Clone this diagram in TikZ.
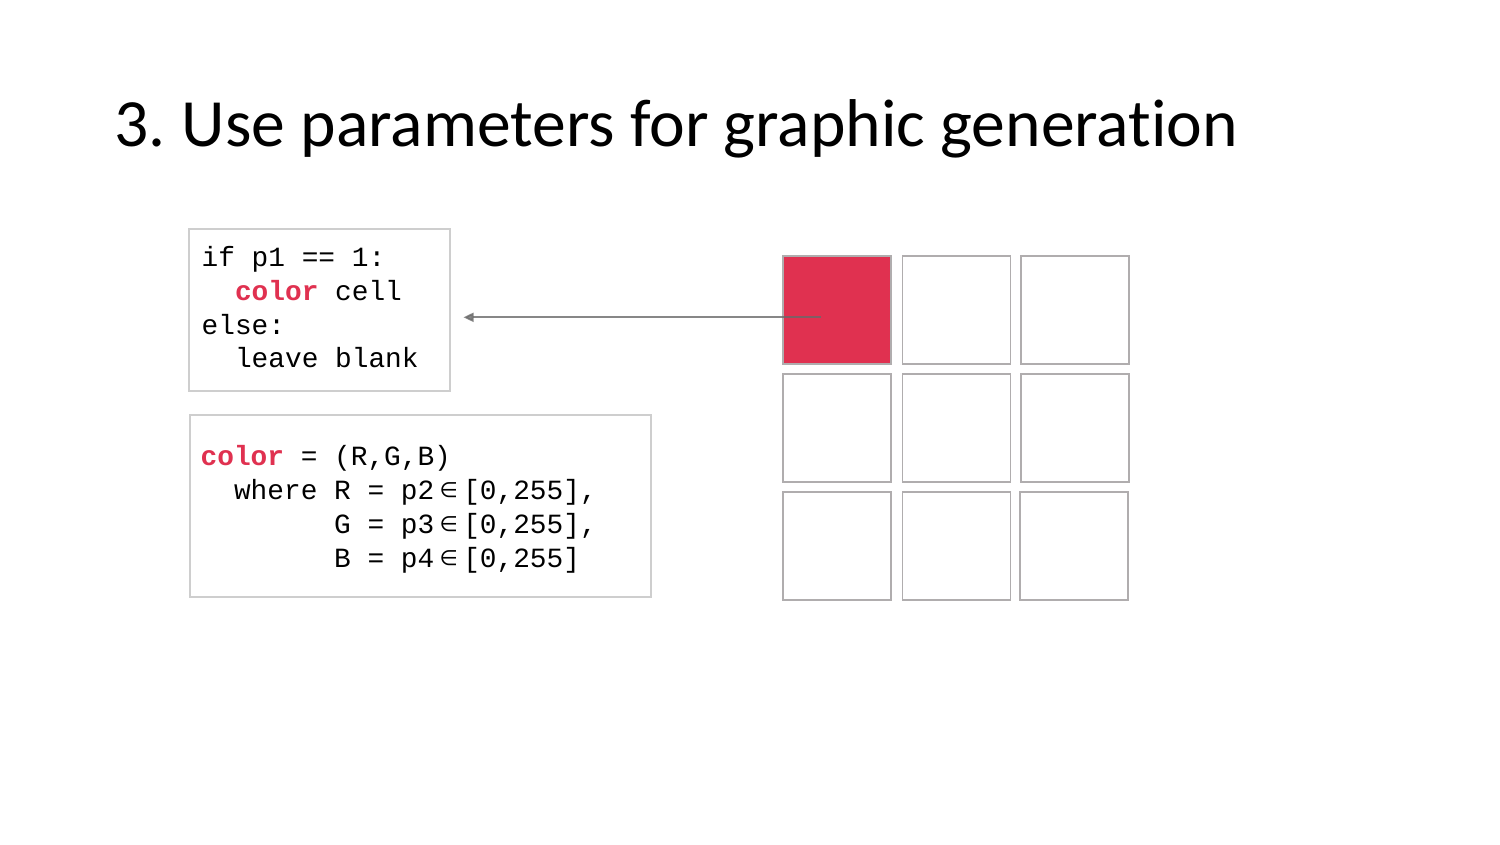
\documentclass[tikz,border=0pt]{standalone}
\usepackage{fontspec}
\setmainfont{Carlito}[Ligatures={NoCommon}]
\newfontfamily\codefont{Liberation Mono}
\newfontfamily\symfont{DejaVu Sans}
\usetikzlibrary{arrows.meta}

\definecolor{accent}{RGB}{224,49,80}
\definecolor{cellgray}{RGB}{176,173,174}
\definecolor{boxgray}{RGB}{206,206,206}
\definecolor{linkgray}{RGB}{105,105,105}

% keyword highlighting and the set-membership sign
\newcommand{\kw}[1]{\textcolor{accent}{\bfseries #1}}
\newcommand{\elem}{\makebox[29pt][c]{\raisebox{1.5pt}{\fontsize{21}{21}\symfont ∈}}}

\begin{document}
\begin{tikzpicture}[x=1pt,y=-1pt,
  codeline/.style={anchor=base west, inner sep=0pt,
    font=\codefont\fontsize{27.8}{33.7}\selectfont},
  codebox/.style={draw=boxgray, line width=1.5pt, anchor=north west,
    inner sep=0pt},
  cell/.style={draw=cellgray, line width=1.6pt, anchor=north west,
    minimum width=108pt, minimum height=108pt, inner sep=0pt},
  link/.style={draw=linkgray, line width=1.8pt, opacity=0.8,
    -{Triangle[length=10pt,width=9pt]}}]

\fill[white] (0,0) rectangle (1500,844);
\useasboundingbox (0,0) rectangle (1500,844);

% heading
\node[anchor=base west, inner sep=0pt, font=\fontsize{67.6}{80}\selectfont]
  (title) at (114,146) {3.\hspace{-4pt} Use parameters for graphic generation};

% code panels
\node[codebox, minimum width=261pt, minimum height=162pt] (box1) at (188,228) {};
\node[codebox, minimum width=461pt, minimum height=182pt] (box2) at (189,414) {};

\node[codeline] (l1a) at (201.5,266.7) {if p1 == 1:};
\node[codeline] (l1b) at (201.5,300.4) {~~\kw{color} cell};
\node[codeline] (l1c) at (201.5,334.1) {else:};
\node[codeline] (l1d) at (201.5,367.8) {~~leave blank};

\node[codeline] (l2a) at (200.5,465) {\kw{color} = (R,G,B)};
\node[codeline] (l2b) at (200.5,499) {~~where R = p2\elem[0,255],};
\node[codeline] (l2c) at (200.5,533) {~~~~~~~~G = p3\elem[0,255],};
\node[codeline] (l2d) at (200.5,567) {~~~~~~~~B = p4\elem[0,255]};

% 3x3 grid of cells
\node[cell, fill=accent] (c11) at (782,255) {};
\node[cell] (c12) at (901.5,255) {};
\node[cell] (c13) at (1020,255) {};
\node[cell] (c21) at (782,373) {};
\node[cell] (c22) at (901.5,373) {};
\node[cell] (c23) at (1020,373) {};
\node[cell] (c31) at (782,491) {};
\node[cell] (c32) at (901.5,491) {};
\node[cell] (c33) at (1019,491) {};

% pointer from the coloured cell back to the rule
\coordinate (src) at ([xshift=-16pt,yshift=-7.5pt]c11.center);
\coordinate (dst) at ([xshift=13pt]box1.east |- src);
\draw[link] (src) -- (dst);

\end{tikzpicture}
\end{document}
